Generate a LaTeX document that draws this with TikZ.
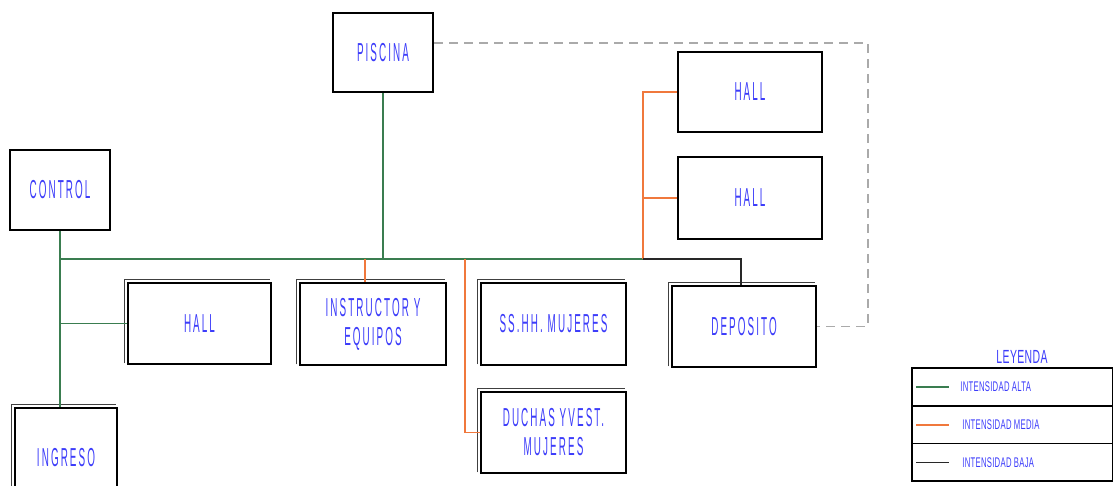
\documentclass[tikz,border=0pt]{standalone}
\usepackage{fontspec}
\newfontfamily\cfont[FakeStretch=0.38,LetterSpace=8]{Liberation Sans}
\newfontfamily\lfont[FakeStretch=0.55,LetterSpace=2]{Liberation Sans}
\definecolor{txtblue}{RGB}{60,60,250}
\definecolor{lgreen}{RGB}{58,125,80}
\definecolor{lorange}{RGB}{240,120,60}
\definecolor{lgray}{RGB}{170,170,170}
\definecolor{lblack}{RGB}{40,40,40}
\tikzset{
  room/.style={draw=black, line width=2.6pt, fill=white, inner sep=0pt, align=center,
    text=txtblue, font=\cfont\fontsize{26}{29}\selectfont},
  shade2/.style={draw=black!75, line width=0.9pt},
  gl/.style={draw=lgreen, line width=1.8pt},
  ol/.style={draw=lorange, line width=1.8pt},
  bl/.style={draw=lblack, line width=1.8pt},
  dl/.style={draw=lgray, line width=1.8pt, dash pattern=on 9pt off 6pt},
  legtxt/.style={text=txtblue, font=\lfont\fontsize{14}{16}\selectfont, anchor=west, inner sep=0pt},
  legrow/.style={draw=black, line width=1.6pt, minimum width=201pt, minimum height=37.7pt, inner sep=0pt}
}
\begin{document}
\begin{tikzpicture}[x=1pt,y=-1pt]
\useasboundingbox (0,0) rectangle (1113,486);
% rooms
\node[room, minimum width=100pt, minimum height=79pt] (piscina) at (383,52.5) {PISCINA};
\node[room, minimum width=100pt, minimum height=80pt] (control) at (60,190) {CONTROL};
\node[room, minimum width=143pt, minimum height=81pt] (hallL) at (199.5,323.5) {HALL};
\node[room, minimum width=102pt, minimum height=100pt] (ingreso) at (66,458) {INGRESO};
\node[room, minimum width=146pt, minimum height=82pt] (instr) at (373,324) {INSTRUCTOR Y\\EQUIPOS};
\node[room, minimum width=145pt, minimum height=82pt] (sshh) at (553.5,324) {SS.HH. MUJERES};
\node[room, minimum width=145pt, minimum height=81pt] (duchas) at (553.5,432.5) {DUCHAS YVEST.\\MUJERES};
\node[room, minimum width=144pt, minimum height=80pt] (hall1) at (750,92) {HALL};
\node[room, minimum width=144pt, minimum height=82pt] (hall2) at (750,198) {HALL};
\node[room, minimum width=144pt, minimum height=81pt] (deposito) at (744,326.5) {DEPOSITO};
% secondary outlines
\foreach \n in {hallL,instr,sshh,duchas,deposito,ingreso}
  \draw[shade2] ([shift={(-2pt,2pt)}]\n.south west) -- ([shift={(-2pt,2pt)}]\n.north west) -- ([shift={(-2pt,2pt)}]\n.north east);
% junctions
\coordinate (jL) at (60,259);
\coordinate (jO) at (643,259);
\coordinate (jD) at (465,259);
\coordinate (dc) at (868,43);
% green
\draw[gl] (control.south) -- (control.south |- ingreso.north);
\draw[gl] (jL) -- (jO);
\draw[gl] (jL |- hallL.west) -- (hallL.west);
\draw[gl] (piscina.south) -- (piscina.south |- jL);
% orange
\draw[ol] ([xshift=-8pt]instr.north) -- ([xshift=-8pt]instr.north |- jL);
\draw[ol] (jD) |- (duchas.west);
\draw[ol] (jO) |- (hall1.west);
\draw[ol] (hall2.west) -- (hall2.west -| jO);
% black
\draw[bl] (jO) -| ([xshift=-3pt]deposito.north);
% dashed
\draw[dl] ([yshift=9.5pt]piscina.east) -| (dc) |- (deposito.east);
% legend
\node[text=txtblue, font=\lfont\fontsize{19}{21}\selectfont, inner sep=0pt] (ley) at (1022,357) {LEYENDA};
\node[legrow] (r1) at (1012.5,387) {};
\node[legrow] (r2) at (1012.5,424.7) {};
\node[legrow] (r3) at (1012.5,462.4) {};
\draw[gl] ([xshift=5pt]r1.west) -- ++(33pt,0) coordinate (e1);
\draw[ol] ([xshift=5pt]r2.west) -- ++(33pt,0) coordinate (e2);
\draw[bl] ([xshift=5pt]r3.west) -- ++(33pt,0) coordinate (e3);
\node[legtxt] (t1) at ([xshift=11pt]e1) {INTENSIDAD ALTA};
\node[legtxt] (t2) at ([xshift=13pt]e2) {INTENSIDAD MEDIA};
\node[legtxt] (t3) at ([xshift=13pt]e3) {INTENSIDAD BAJA};
\end{tikzpicture}
\end{document}
